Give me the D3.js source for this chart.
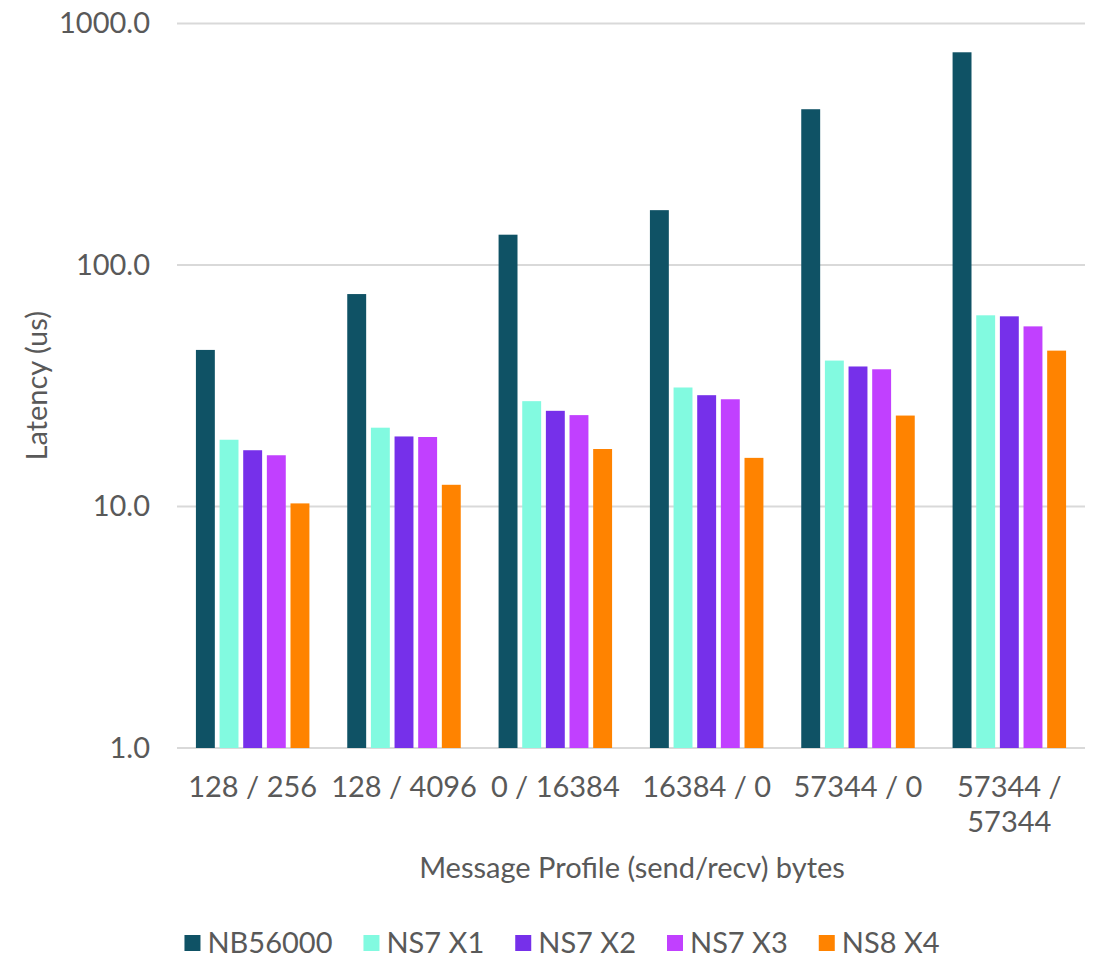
<!DOCTYPE html>
<html>
<head>
<meta charset="utf-8">
<script src="https://cdn.jsdelivr.net/npm/d3@7"></script>
<style>
  body { margin: 0; background: #fff; }
  text { font-family: Lato, "Open Sans", sans-serif; fill: #595959; }
</style>
</head>
<body>
<svg id="chart" width="1105" height="964"></svg>
<script>
// message profiles and series
var categories = [["128 / 256"], ["128 / 4096"], ["0 / 16384"], ["16384 / 0"], ["57344 / 0"], ["57344 /", "57344"]];
var series = ["NB56000", "NS7 X1", "NS7 X2", "NS7 X3", "NS8 X4"];

// latency in us, one array per series
var nb56000 = [44.5, 75.8, 133.5, 168.7, 441.6, 760];
var ns7x1   = [18.9, 21.2, 27.3, 31.1, 40.2, 61.9];
var ns7x2   = [17.1, 19.5, 24.9, 28.9, 38.0, 61.3];
var ns7x3   = [16.3, 19.4, 23.9, 27.8, 37.0, 55.7];
var ns8x4   = [10.3, 12.3, 17.3, 15.9, 23.8, 44.2];

var yTicks = [1, 10, 100, 1000];

var values = [nb56000, ns7x1, ns7x2, ns7x3, ns8x4];
var colors = ["#0F5265", "#82FAE0", "#7630EA", "#C140FF", "#FF8300"];

var fs = "29px";

var svg = d3.select("#chart"),
    margin = {top: 23.5, left: 177, bottom: 216, right: 20},
    width = +svg.attr("width"),
    height = +svg.attr("height");

var catKeys = categories.map(d => d.join(" "));

var x = d3.scaleBand()
    .domain(catKeys)
    .range([margin.left, width - margin.right])
    .paddingInner(0.25)
    .paddingOuter(0.125);

var x1 = d3.scaleBand()
    .domain(series)
    .range([0, x.bandwidth()])
    .paddingInner(0.2);

var y = d3.scaleLog()
    .domain([1, 1000])
    .range([height - margin.bottom, margin.top]);

var z = d3.scaleOrdinal().domain(series).range(colors);

// grid lines
svg.append("g")
    .selectAll("line")
    .data(yTicks)
    .enter().append("line")
    .attr("x1", margin.left)
    .attr("x2", width - margin.right)
    .attr("y1", d => y(d))
    .attr("y2", d => y(d))
    .attr("stroke", "#d9d9d9")
    .attr("stroke-width", 2);

// y axis labels
var yAxis = svg.append("g")
    .attr("transform", `translate(150,0)`)
    .call(d3.axisLeft(y).tickValues(yTicks).tickFormat(d3.format(".1f")).tickSize(0).tickPadding(0));
yAxis.select(".domain").remove();
yAxis.selectAll("text")
    .style("font-size", fs)
    .attr("fill", "#595959");

// bars
var rows = categories.map((c, i) => ({key: catKeys[i], vals: series.map((s, j) => ({s: s, v: values[j][i]}))}));

var group = svg.selectAll("g.layer")
    .data(rows)
    .enter().append("g")
    .attr("class", "layer")
    .attr("transform", d => `translate(${x(d.key)},0)`);

group.selectAll("rect")
    .data(d => d.vals)
    .enter().append("rect")
    .attr("x", d => x1(d.s))
    .attr("width", x1.bandwidth())
    .attr("y", d => y(d.v))
    .attr("height", d => y(1) - y(d.v))
    .attr("fill", d => z(d.s));

// x labels
var xl = svg.append("g")
    .selectAll("text")
    .data(categories)
    .enter().append("text")
    .attr("x", (d, i) => x(catKeys[i]) + x.bandwidth() / 2)
    .attr("y", 797)
    .attr("text-anchor", "middle")
    .style("font-size", fs);

xl.selectAll("tspan")
    .data(d => d)
    .enter().append("tspan")
    .attr("x", function() { return d3.select(this.parentNode).attr("x"); })
    .attr("dy", (d, i) => i ? 35 : 0)
    .text(d => d);

// axis titles
svg.append("text")
    .attr("x", 632)
    .attr("y", 878)
    .attr("text-anchor", "middle")
    .style("font-size", fs)
    .text("Message Profile (send/recv) bytes");

svg.append("text")
    .attr("transform", `translate(47,${(y(1) + y(1000)) / 2}) rotate(-90)`)
    .attr("text-anchor", "middle")
    .style("font-size", fs)
    .text("Latency (us)");

// legend
var legend = svg.append("g").attr("class", "legend");
var lx = 0;
series.forEach(function(s) {
    var g = legend.append("g").attr("transform", `translate(${lx},0)`);
    g.append("rect")
        .attr("x", 0)
        .attr("y", -8)
        .attr("width", 16)
        .attr("height", 16)
        .attr("fill", z(s));
    var t = g.append("text")
        .attr("x", 23)
        .attr("y", 0)
        .attr("dy", ".35em")
        .style("font-size", fs)
        .text(s);
    lx += 23 + t.node().getComputedTextLength() + 31;
});
lx -= 31;
legend.attr("transform", `translate(${562 - lx / 2},943)`);
</script>
</body>
</html>
